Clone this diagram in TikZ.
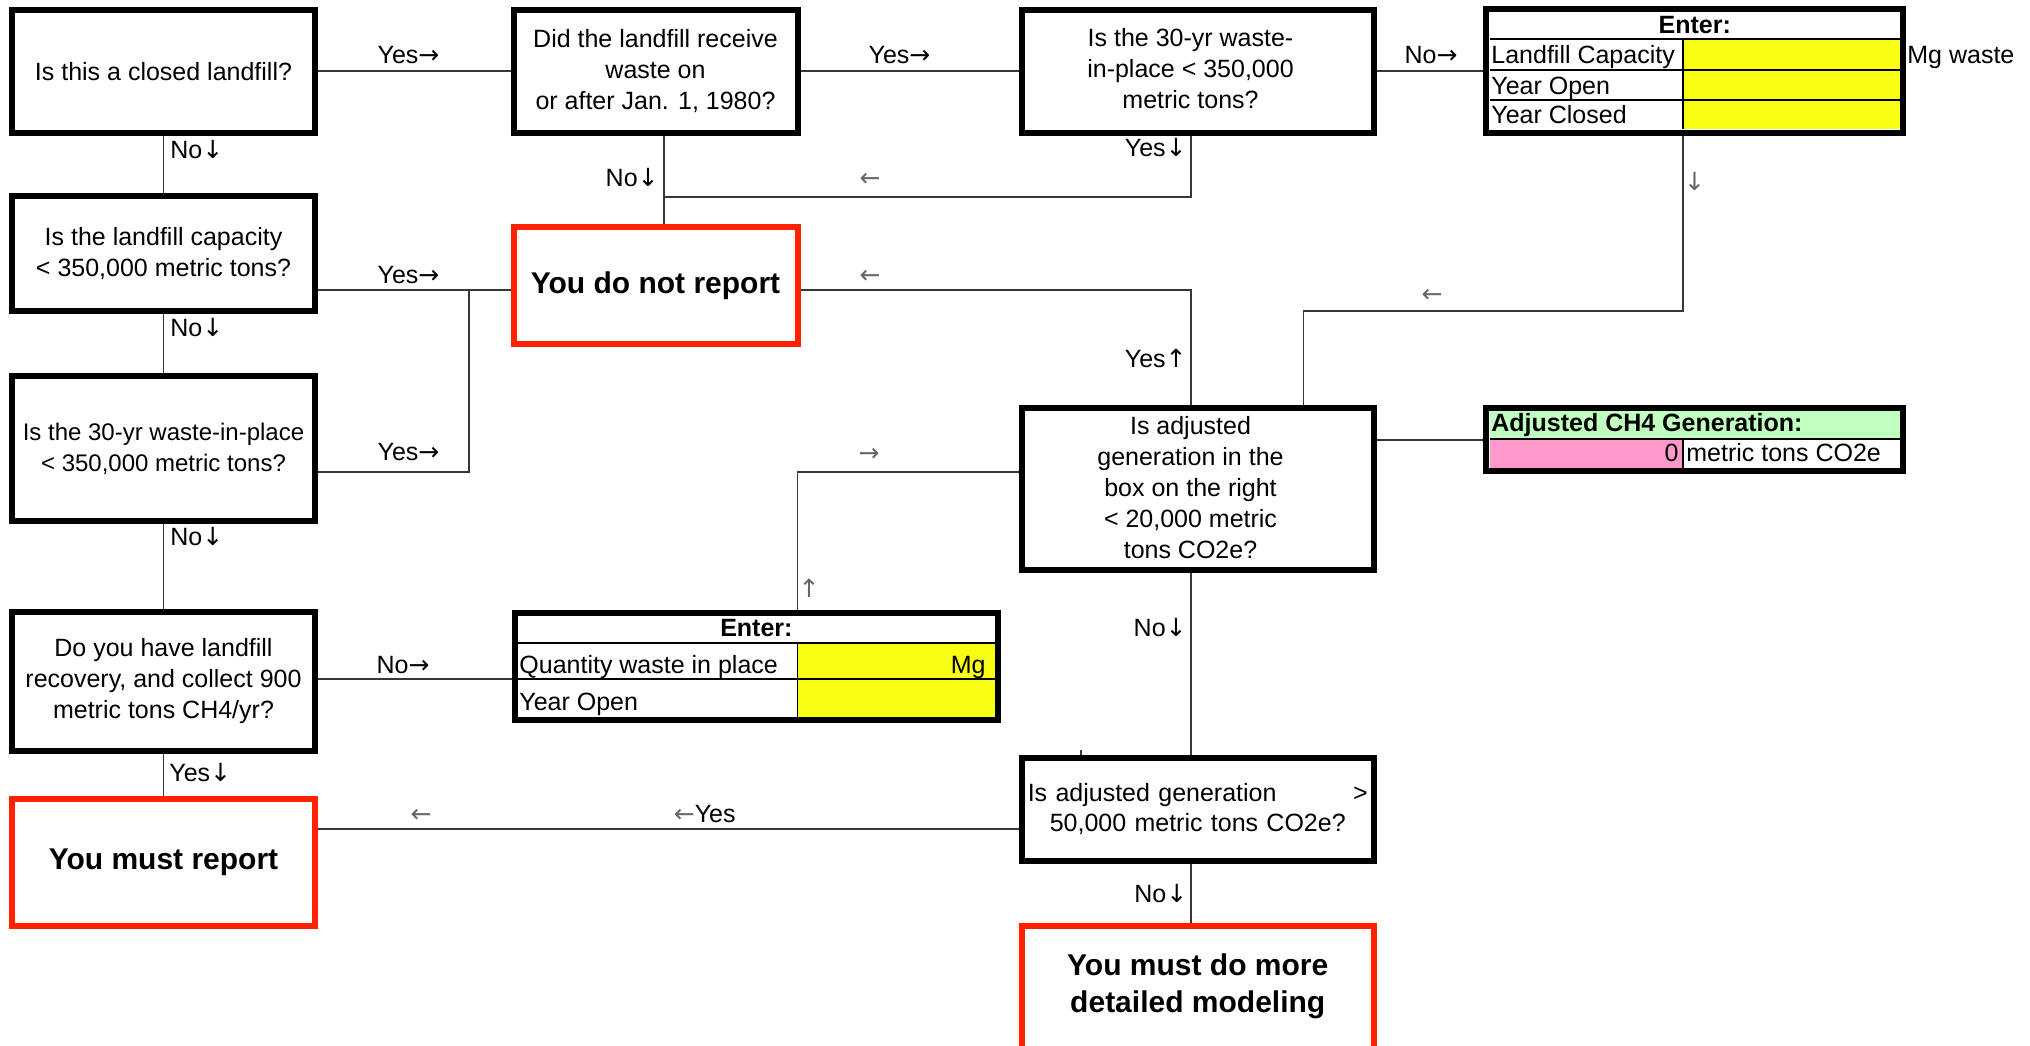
\documentclass[tikz,border=0pt]{standalone}
\usepackage{fontspec}
\setmainfont{Liberation Sans}
\newfontfamily\arrowfont{DejaVu Sans}
\newcommand{\ar}[1]{{\arrowfont #1}}
\definecolor{redbox}{RGB}{255,34,0}
\definecolor{cellyellow}{RGB}{248,255,20}
\definecolor{cellgreen}{RGB}{192,255,192}
\definecolor{cellpink}{RGB}{255,153,204}
\definecolor{wirecol}{RGB}{55,55,55}
\newcommand{\myq}{\fontsize{12.5pt}{15.5pt}\selectfont}
\newcommand{\myr}{\fontsize{15pt}{18.5pt}\selectfont\bfseries}
\begin{document}
\begin{tikzpicture}[x=0.5pt,y=-0.5pt,
  qbox/.style={draw=black, line width=3pt, inner sep=0pt, align=center, font=\myq},
  rbox/.style={draw=redbox, line width=3pt, inner sep=0pt, align=center, font=\myr},
  tbox/.style={draw=black, line width=3pt, inner sep=0pt},
  qtext/.style={inner sep=0pt, align=center, font=\myq},
  lab/.style={inner sep=0pt, font=\myq},
  garrow/.style={inner sep=0pt, font=\myq\arrowfont, text=black!60},
  conn/.style={draw=wirecol, line width=0.9pt},
  cellline/.style={draw=black, line width=0.9pt},
]
\useasboundingbox (0,0) rectangle (2030,1045);
\clip (0,0) rectangle (2030,1045);

% ---------- question boxes ----------
\node[qbox, minimum width=151.5pt, minimum height=61.75pt] (A) at (163.5,71.25) {Is this a closed landfill?};
\node[qbox, minimum width=142pt, minimum height=61.75pt] (B) at (655.5,71.25) {Did the landfill receive\\ waste on\\ or after Jan. 1, 1980?};
\node[qbox, minimum width=175.75pt, minimum height=61.75pt] (C) at (1197.75,71.25) {};
\node[qtext] (Ct) at (1190.5,69) {Is the 30-yr waste-\\ in-place < 350,000\\ metric tons?};

\node[qbox, minimum width=151.5pt, minimum height=57.5pt] (F) at (163.5,253.5) {Is the landfill capacity\\ < 350,000 metric tons?};
\node[qbox, minimum width=151.5pt, minimum height=72.1pt, font=\fontsize{12pt}{15.5pt}\selectfont] (G) at (163.5,448.4) {Is the 30-yr waste-in-place\\ < 350,000 metric tons?};
\node[qbox, minimum width=151.5pt, minimum height=69.5pt] (H) at (163.5,681.5) {Do you have landfill\\ recovery, and collect 900\\ metric tons CH4/yr?};

\node[rbox, minimum width=142pt, minimum height=58.35pt] (D) at (655.5,285.35) {You do not report};
\node[rbox, minimum width=151.5pt, minimum height=63.35pt] (I) at (163.5,862.35) {You must report};

\node[qbox, minimum width=175.75pt, minimum height=80.75pt] (E) at (1197.75,488.75) {};
\node[qtext] (Et) at (1190.5,488) {Is adjusted\\ generation in the\\ box on the right\\ < 20,000 metric\\ tons CO2e?};

\node[qbox, minimum width=175.75pt, minimum height=51.5pt, text width=170pt, font=\fontsize{12.5pt}{15pt}\selectfont] (K) at (1197.75,809.5) {Is adjusted generation\hfill >\\ 50,000 metric tons CO2e?};

\node[rbox, minimum width=175.75pt, minimum height=100pt] (L) at (1197.75,1026) {};
\node[inner sep=0pt, align=center, font=\myr] (Lt) at (1197.75,986.5) {You must do more\\ detailed modeling};

% ---------- Enter table 1 (top right) ----------
\fill[cellyellow] (1683,39.3) rectangle (1900,129.3);
\draw[cellline] (1489.5,39.3) -- (1900,39.3);
\draw[cellline] (1489.5,70) -- (1900,70);
\draw[cellline] (1489.5,100) -- (1900,100);
\draw[cellline] (1683,39.3) -- (1683,129.3);
\node[tbox, minimum width=208.5pt, minimum height=61.85pt] (N1) at (1694.5,70.85) {};
\node[inner sep=0pt, font=\myq\bfseries, anchor=base] (N1h) at (1694.75,33.3) {Enter:};
\node[lab, anchor=base west] (N1a) at (1491,63.3) {Landfill Capacity};
\node[lab, anchor=base west] (N1b) at (1491,94.3) {Year Open};
\node[lab, anchor=base west] (N1c) at (1491,123) {Year Closed};
\node[lab, anchor=base west] (N1u) at (1907,63.3) {Mg waste};

% ---------- Enter table 2 (bottom middle) ----------
\fill[cellyellow] (797.5,642.7) rectangle (995.5,716.7);
\draw[cellline] (517.3,642.7) -- (995.5,642.7);
\draw[cellline] (517.3,679.3) -- (995.5,679.3);
\draw[cellline] (797.5,642.7) -- (797.5,716.7);
\node[tbox, minimum width=241.75pt, minimum height=53.6pt] (N2) at (756.25,666.1) {};
\node[inner sep=0pt, font=\myq\bfseries, anchor=base] (N2h) at (756.4,636) {Enter:};
\node[lab, anchor=base west] (N2a) at (519,673) {Quantity waste in place};
\node[lab, anchor=base east] (N2u) at (986,673) {Mg};
\node[lab, anchor=base west] (N2b) at (519,710) {Year Open};

% ---------- Adjusted CH4 box ----------
\fill[cellgreen] (1489.5,411) rectangle (1900,439);
\fill[cellpink] (1489.5,439) rectangle (1683,468.3);
\draw[cellline] (1489.5,439) -- (1900,439);
\draw[cellline] (1683,439) -- (1683,468.3);
\node[tbox, minimum width=208.5pt, minimum height=31.5pt] (CH) at (1694.5,439.8) {};
\node[inner sep=0pt, font=\myq\bfseries, anchor=base west] (CHh) at (1491,431.5) {Adjusted CH4 Generation:};
\node[lab, anchor=base east] (CHv) at (1679,461.5) {0};
\node[lab, anchor=base west] (CHu) at (1686,461.5) {metric tons CO2e};

% ---------- helper coordinates ----------
\coordinate (xB) at (664,0);
\coordinate (xR) at (1191,0);
\coordinate (xJ) at (469,0);
\coordinate (xQ) at (797.5,0);
\coordinate (xE2) at (1303.5,0);
\coordinate (xN) at (1683,0);
\coordinate (xT) at (1081,0);
\coordinate (yB) at (0,197);
\coordinate (yD) at (0,290);
\coordinate (yE) at (0,310.7);
\coordinate (yG) at (0,472);
\coordinate (yH) at (0,679.3);
\coordinate (yK) at (0,829);

% ---------- connectors ----------
\draw[conn] (A) -- (B);
\draw[conn] (B) -- (C);
\draw[conn] (C.east) -- (C.east -| N1.west);
\draw[conn] (A) -- (F);
\draw[conn] (F) -- (G);
\draw[conn] (G) -- (H);
\draw[conn] (H) -- (I);
\draw[conn] (B.south -| xB) -- (D.north -| xB);
\draw[conn] (C.south -| xR) |- (xB |- yB);
\draw[conn] (D.east |- yD) -| (E.north -| xR);
\draw[conn] (F.east |- yD) -- (D.west |- yD);
\draw[conn] (G.east |- yG) -| (xJ |- yD);
\draw[conn] (H.east |- yH) -- (N2.west |- yH);
\draw[conn] (N2.north -| xQ) |- (E.west |- yG);
\draw[conn] (E.north -| xE2) |- (xN |- yE) -- (N1.south -| xN);
\draw[conn] (E.east |- CH.west) -- (CH.west);
\draw[conn] (E.south -| xR) -- (K.north -| xR);
\draw[conn] (K.south -| xR) -- (L.north -| xR);
\draw[conn] (K.west |- yK) -- (I.east |- yK);
\draw[conn] (K.north -| xT) -- ++(0,-5);

% ---------- connector labels ----------
\node[lab, anchor=base] (l1) at (408.5,63.3) {Yes\ar{→}};
\node[lab, anchor=base] (l2) at (899.5,63.3) {Yes\ar{→}};
\node[lab, anchor=base] (l3) at (1431,63.3) {No\ar{→}};
\node[lab, anchor=base west] (l4) at (170,158) {No\ar{↓}};
\node[lab, anchor=base east] (l5) at (659,186.7) {No\ar{↓}};
\node[lab, anchor=base east] (l6) at (1187,156.7) {Yes\ar{↓}};
\node[garrow] (l7) at (870,180) {←};
\node[garrow] (l8) at (1694.5,181) {↓};
\node[lab, anchor=base] (l9) at (408.5,283.3) {Yes\ar{→}};
\node[garrow] (l10) at (870,276.7) {←};
\node[lab, anchor=base west] (l11) at (170,336.7) {No\ar{↓}};
\node[garrow] (l12) at (1432,295.7) {←};
\node[lab, anchor=base] (l13) at (408.5,460.7) {Yes\ar{→}};
\node[lab, anchor=base east] (l14) at (1187,367.3) {Yes\ar{↑}};
\node[garrow] (l15) at (869,455) {→};
\node[lab, anchor=base west] (l16) at (170,545) {No\ar{↓}};
\node[garrow] (l17) at (809,588.5) {↑};
\node[lab, anchor=base] (l18) at (403,673) {No\ar{→}};
\node[lab, anchor=base east] (l19) at (1187,636.7) {No\ar{↓}};
\node[lab, anchor=base west] (l20) at (169,781.7) {Yes\ar{↓}};
\node[garrow] (l21) at (421,816) {←};
\node[lab, anchor=base] (l22) at (704.7,822.7) {{\color{black!60}\ar{←}}Yes};
\node[lab, anchor=base east] (l23) at (1187.6,902.7) {No\ar{↓}};
\end{tikzpicture}
\end{document}
